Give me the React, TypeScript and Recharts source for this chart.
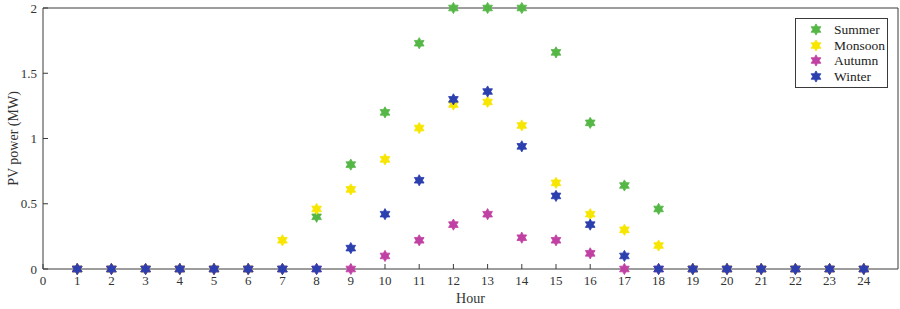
import React from 'react';
import { ScatterChart, Scatter, XAxis, YAxis, Legend } from 'recharts';

const hours = [1, 2, 3, 4, 5, 6, 7, 8, 9, 10, 11, 12, 13, 14, 15, 16, 17, 18, 19, 20, 21, 22, 23, 24];
const summer = [0, 0, 0, 0, 0, 0, 0, 0.40, 0.80, 1.20, 1.73, 2, 2, 2, 1.66, 1.12, 0.64, 0.46, 0, 0, 0, 0, 0, 0];
const monsoon = [0, 0, 0, 0, 0, 0, 0.22, 0.46, 0.61, 0.84, 1.08, 1.26, 1.28, 1.10, 0.66, 0.42, 0.30, 0.18, 0, 0, 0, 0, 0, 0];
const autumn = [0, 0, 0, 0, 0, 0, 0, 0, 0, 0.10, 0.22, 0.34, 0.42, 0.24, 0.22, 0.12, 0, 0, 0, 0, 0, 0, 0, 0];
const winter = [0, 0, 0, 0, 0, 0, 0, 0, 0.16, 0.42, 0.68, 1.30, 1.36, 0.94, 0.56, 0.34, 0.10, 0, 0, 0, 0, 0, 0, 0];

const xTicks = [0, 1, 2, 3, 4, 5, 6, 7, 8, 9, 10, 11, 12, 13, 14, 15, 16, 17, 18, 19, 20, 21, 22, 23, 24];
const yTicks = [0, 0.5, 1, 1.5, 2];

const seriesNames = ['Summer', 'Monsoon', 'Autumn', 'Winter'];
const seriesValues = [summer, monsoon, autumn, winter];
const seriesColors = ['#55b846', '#f7e600', '#c041a3', '#2b3fae'];

const FONT = '"Liberation Serif", "Times New Roman", serif';
const AXIS = '#3a3a3a';

function hexPoints(cx: number, cy: number, R: number) {
  const r = R / Math.sqrt(3);
  const pts: string[] = [];
  for (let i = 0; i < 12; i++) {
    const a = ((-90 + i * 30) * Math.PI) / 180;
    const rad = i % 2 === 0 ? R : r;
    pts.push(`${cx + rad * Math.cos(a)},${cy + rad * Math.sin(a)}`);
  }
  return pts.join(' ');
}

const Hexagram = (props: any) => {
  const { cx, cy, fill } = props;
  if (cx == null || cy == null) return null;
  return <polygon points={hexPoints(cx, cy, 5.6)} fill={fill} stroke={fill} strokeWidth={0.8} />;
};

const LegendBox = (props: any) => {
  const items = [...(props.payload || [])].sort(
    (a: any, b: any) => seriesNames.indexOf(a.value) - seriesNames.indexOf(b.value)
  );
  return (
    <div
      style={{
        border: `1px solid ${AXIS}`,
        background: '#fff',
        width: 91,
        padding: '3px 0 3px 0',
        fontFamily: FONT,
        fontSize: 13.5,
        color: '#222',
      }}
    >
      {items.map((e: any) => (
        <div key={e.value} style={{ display: 'flex', alignItems: 'center', height: 15.5 }}>
          <svg width={38} height={15} style={{ flex: 'none' }}>
            <polygon points={hexPoints(20, 7.5, 5.6)} fill={e.color} stroke={e.color} strokeWidth={0.8} />
          </svg>
          <span style={{ lineHeight: '15px' }}>{e.value}</span>
        </div>
      ))}
    </div>
  );
};

export default function App() {
  const data = seriesValues.map((vals) => hours.map((h, i) => ({ x: h, y: vals[i] })));
  return (
    <div style={{ position: 'absolute', left: 0, top: 0, width: 900, height: 309, background: '#fff' }}>
      <ScatterChart width={900} height={309} margin={{ top: 0, right: 0, bottom: 0, left: 0 }}>
        <XAxis
          xAxisId="b"
          type="number"
          dataKey="x"
          domain={[0, 25]}
          ticks={xTicks}
          interval={0}
          height={40}
          tickSize={-5}
          tickMargin={12}
          stroke={AXIS}
          tick={{ fill: '#333', fontFamily: FONT, fontSize: 13 }}
          label={{
            content: (p: any) => {
              const vb = p.viewBox || {};
              return (
                <text x={vb.x + vb.width / 2} y={vb.y + 34} textAnchor="middle" fontFamily={FONT} fontSize={14} fill="#333">
                  Hour
                </text>
              );
            },
          }}
        />
        <XAxis
          xAxisId="t"
          orientation="top"
          type="number"
          dataKey="x"
          domain={[0, 25]}
          ticks={xTicks}
          interval={0}
          height={8}
          tickSize={-5}
          stroke={AXIS}
          tickFormatter={() => ''}
        />
        <YAxis
          yAxisId="l"
          type="number"
          dataKey="y"
          domain={[0, 2]}
          ticks={yTicks}
          interval={0}
          width={43}
          tickSize={-5}
          tickMargin={11}
          stroke={AXIS}
          tick={{ fill: '#333', fontFamily: FONT, fontSize: 13 }}
          label={{
            content: (p: any) => {
              const vb = p.viewBox || {};
              const x = vb.x + 13;
              const y = vb.y + vb.height / 2;
              return (
                <text
                  x={x}
                  y={y}
                  transform={`rotate(-90, ${x}, ${y})`}
                  textAnchor="middle"
                  dominantBaseline="central"
                  fontFamily={FONT}
                  fontSize={14}
                  fill="#333"
                >
                  PV power (MW)
                </text>
              );
            },
          }}
        />
        <YAxis
          yAxisId="r"
          orientation="right"
          type="number"
          dataKey="y"
          domain={[0, 2]}
          ticks={yTicks}
          interval={0}
          width={2}
          tickSize={-5}
          stroke={AXIS}
          tickFormatter={() => ''}
        />
        <Legend
          layout="vertical"
          align="center"
          verticalAlign="middle"
          wrapperStyle={{ left: 795, top: 18, width: 'auto', height: 'auto' }}
          content={<LegendBox />}
        />
        {seriesNames.map((name, i) => (
          <Scatter
            key={name}
            name={name}
            data={data[i]}
            xAxisId="b"
            yAxisId="l"
            fill={seriesColors[i]}
            shape={<Hexagram />}
            isAnimationActive={false}
          />
        ))}
      </ScatterChart>
    </div>
  );
}
